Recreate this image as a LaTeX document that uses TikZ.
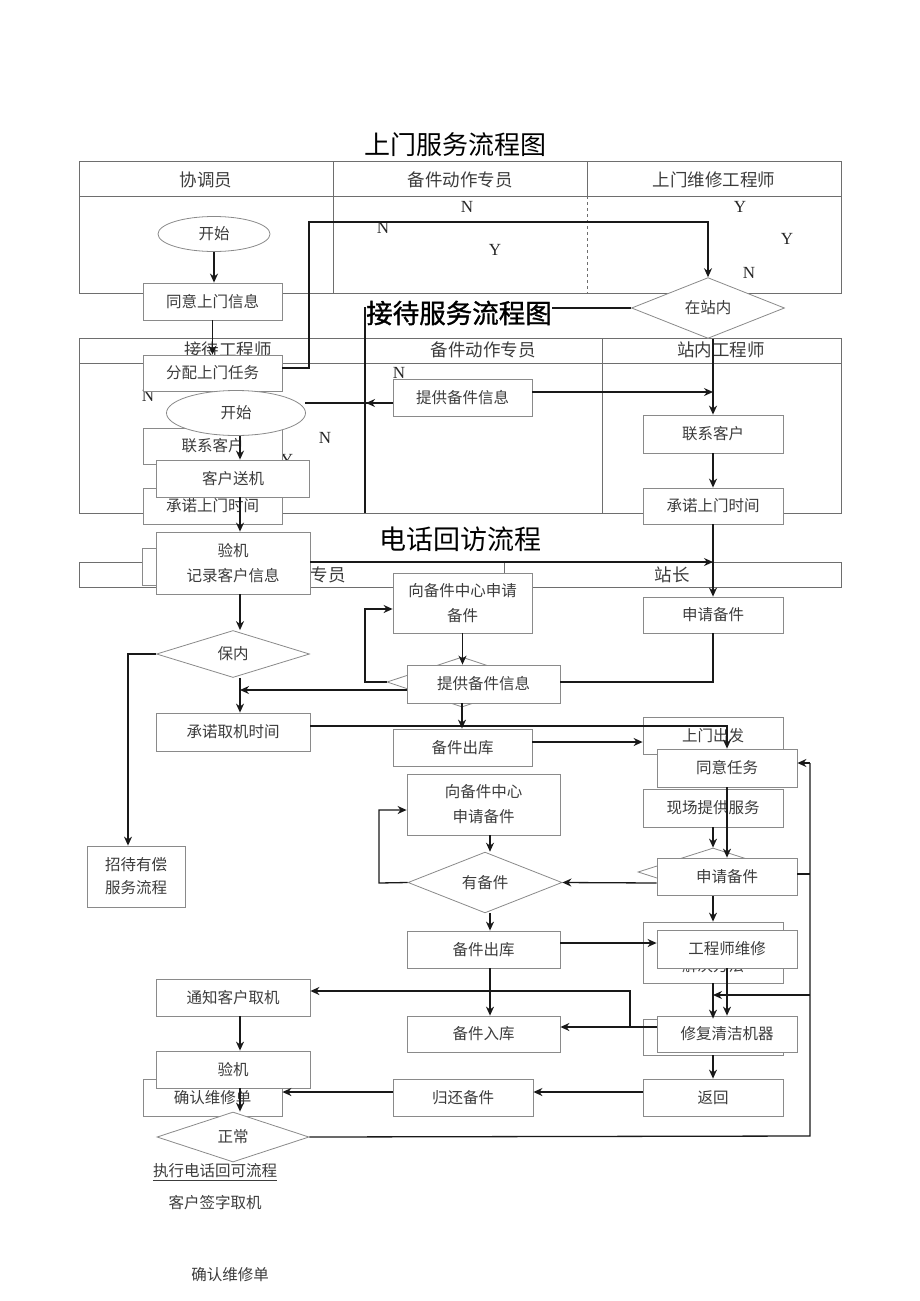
\documentclass[tikz,border=0pt]{standalone}
\usepackage{fontspec}
\setmainfont{Liberation Serif}
\newfontfamily\cjk{Noto Sans CJK SC}
\newfontfamily\cjkb{Noto Sans CJK SC}[FakeBold=1.2]
\usetikzlibrary{shapes.geometric,arrows.meta}
\definecolor{boxline}{HTML}{8A8A8A}
\definecolor{boxtext}{HTML}{3C3C3C}
\definecolor{tabline}{HTML}{6E6E6E}
\begin{document}
\begin{tikzpicture}[x=1pt,y=-1pt]
\tikzstyle{every node}+=[inner sep=0pt]
\tikzstyle{box}=[draw=boxline, line width=0.8pt, fill=white, minimum height=37pt, text=boxtext, font=\cjk\fontsize{15.5}{25}\selectfont, align=center]
\tikzstyle{dia}=[box, diamond, minimum height=49pt]
\tikzstyle{oval}=[box, ellipse]
\tikzstyle{lane}=[text=boxtext, font=\cjk\fontsize{17.5}{20}\selectfont]
\tikzstyle{note}=[text=boxtext, font=\cjk\fontsize{15.5}{18}\selectfont]
\tikzstyle{title}=[fill=white, font=\cjk\fontsize{26}{30}\selectfont]
\tikzstyle{yn}=[text=black!85, font=\fontsize{17}{18}\selectfont]
\tikzstyle{arr}=[black!90, line width=1.3pt, -{Stealth[length=9pt,width=8pt]}]
\tikzstyle{wire}=[black!90, line width=1.3pt]
\tikzstyle{frame}=[tabline, line width=0.9pt]
\useasboundingbox (0,0) rectangle (920,1301);

\draw[frame] (79,161) rectangle (841,293);
\draw[frame] (79,196) -- (841,196);
\draw[frame] (333,161) -- (333,293);
\draw[frame] (587,161) -- (587,196);
\draw[frame, dashed] (587,196) -- (587,293);
\node[lane] (h1a) at (206,180) {协调员};
\node[lane] (h1b) at (460,180) {备件动作专员};
\node[lane] (h1c) at (714,180) {上门维修工程师};

\draw[frame] (79,338) rectangle (841,513);
\draw[frame] (79,363) -- (841,363);
\draw[frame] (602,338) -- (602,513);
\node[lane] (h2a) at (228,350) {接待工程师};
\node[lane] (h2b) at (483,350) {备件动作专员};
\node[lane] (h2c) at (721,350) {站内工程师};

\draw[frame] (79,562) rectangle (841,587);
\draw[frame] (504,562) -- (504,587);
\node[lane] (h3a) at (328,575) {专员};
\node[lane] (h3b) at (672,575) {站长};

\node[dia, minimum width=153pt, minimum height=50pt] (zzn) at (708,308) {在站内};
\draw[wire] (zzn.west) -- (365,308) -- (365,513);

\node[title] (t1) at (455,145) {上门服务流程图};
\node[title, font=\cjkb\fontsize{26.5}{30}\selectfont] (t2) at (459,313) {接待服务流程图};
\node[title, font=\cjk\fontsize{27}{30}\selectfont] (t3) at (460,539) {电话回访流程};

\node[yn] (n1) at (467,207) {N};
\node[yn] (n2) at (383,228) {N};
\node[yn] (y1) at (495,250) {Y};
\node[yn] (y2) at (740,207) {Y};
\node[yn] (y3) at (787,239) {Y};
\node[yn] (n3) at (749,273) {N};
\node[yn] (n4) at (399,373) {N};
\node[yn] (n5) at (148,396) {N};
\node[yn] (n6) at (325,438) {N};
\node[yn] (y4) at (287,460) {Y};

\node[oval, minimum width=112pt, minimum height=35pt] (ks1) at (214,234) {开始};
\node[box, minimum width=139pt] (tyxx) at (212.5,301.5) {同意上门信息};

\node[box, minimum width=139pt, minimum height=36pt] (lxkh1) at (212.5,446) {联系客户};
\node[box, minimum width=139pt, minimum height=36pt] (cnsj1) at (212.5,506) {承诺上门时间};
\node[box, minimum width=139pt, minimum height=36pt] (fprw) at (212.5,373) {分配上门任务};
\node[oval, minimum width=139pt, minimum height=45pt] (ks2) at (236,413) {开始};
\node[box, minimum width=153pt] (csj) at (233,478.5) {客户送机};
\node[box, minimum width=139pt] (tgxx1) at (462.5,397.5) {提供备件信息};
\node[box, minimum width=140pt, minimum height=38pt] (lxkh2) at (713,434) {联系客户};
\node[box, minimum width=140pt, minimum height=36pt] (cnsj2) at (713,506) {承诺上门时间};

\node[box, minimum width=140pt] (yjbk) at (212,566.5) {};
\node[box, minimum width=154pt, minimum height=62pt] (yj1) at (233,563) {验机\\记录客户信息};
\node[box, minimum width=139pt, minimum height=60pt] (sqzx1) at (462.5,603) {向备件中心申请\\备件};
\node[dia, minimum width=150pt, minimum height=50pt] (dia1) at (462,682) {};
\node[box, minimum width=153pt, minimum height=38pt] (tgxx2) at (483.5,684) {提供备件信息};
\node[box, minimum width=140pt, minimum height=36pt] (sqbj1) at (713,615) {申请备件};

\node[dia, minimum width=153pt, minimum height=47pt] (bn) at (233,654) {保内};
\node[box, minimum width=154pt, minimum height=38pt] (cnqj) at (233,732) {承诺取机时间};
\node[box, minimum width=98pt, minimum height=61pt, font=\cjk\fontsize{15.5}{23}\selectfont] (zdyc) at (136,876.5) {招待有偿\\服务流程};
\node[box, minimum width=139pt] (bjck1) at (462.5,747.5) {备件出库};

\node[box, minimum width=140pt] (smcf) at (713,735.5) {上门出发};
\node[box, minimum width=140pt, minimum height=38pt] (tyrw) at (727,768) {同意任务};
\node[box, minimum width=140pt, minimum height=38pt] (xctg) at (713,808) {现场提供服务};
\node[dia, minimum width=150pt, minimum height=48pt] (dia2) at (713,872) {};
\node[box, minimum width=140pt] (sqbj2) at (727,876.5) {申请备件};

\node[box, minimum width=153pt, minimum height=61pt] (sqzx2) at (483.5,804.5) {向备件中心\\申请备件};
\node[dia, minimum width=154pt, minimum height=49pt] (ybj) at (485,882.5) {有备件};
\node[box, minimum width=153pt] (bjck2) at (483.5,949.5) {备件出库};

\node[box, minimum width=140pt, minimum height=61pt] (jjff) at (713,952.5) {};
\node[note] (jjfftxt) at (713,966) {解决方法};
\node[box, minimum width=140pt, minimum height=38pt] (gcwx) at (727,949) {工程师维修};

\node[box, minimum width=153pt, minimum height=36pt] (bjrk) at (483.5,1034) {备件入库};
\node[box, minimum width=140pt, minimum height=36pt] (xfbk) at (713,1037) {};
\node[box, minimum width=140pt, minimum height=36pt] (xfqj) at (727,1034) {修复清洁机器};
\node[box, minimum width=140pt] (fh) at (713,1097.5) {返回};
\node[box, minimum width=140pt] (ghbj) at (463,1097.5) {归还备件};

\node[box, minimum width=154pt] (tzqj) at (233,997.5) {通知客户取机};
\node[box, minimum width=139pt] (qrwx) at (212.5,1097.5) {确认维修单};
\node[box, minimum width=154pt] (yj2) at (233,1069.5) {验机};
\node[dia, minimum width=152pt, minimum height=50pt] (zc) at (233,1137) {正常};

\node[note] (zxhf) at (215,1171) {执行电话回可流程};
\draw[boxtext, line width=0.7pt] ([yshift=-2pt]zxhf.south west) -- ([yshift=-2pt]zxhf.south east);
\node[note] (khqz) at (215,1203) {客户签字取机};
\node[note] (qrwx2) at (230,1275) {确认维修单};

\draw[arr] (ks1.south) -- (ks1.south |- tyxx.north);
\draw[arr] (tyxx.south) -- (tyxx.south |- fprw.north);
\draw[arr] (fprw.east |- 0,368) -- (309,368) -- (309,222) -- (zzn.north |- 0,222) -- (zzn.north);
\draw[arr] (zzn.south -| lxkh2.north) -- (lxkh2.north);
\draw[arr] (tgxx1.east |- 0,392) -- (lxkh2.north |- 0,392);
\draw[wire] (tgxx1.west |- 0,403) -- (305,403);
\draw[arr] (tgxx1.west |- 0,403) -- (366,403);
\draw[arr] (ks2.south -| 240,0) -- (csj.north -| 240,0);
\draw[arr] (lxkh2.south) -- (cnsj2.north);
\draw[arr] (csj.south -| 240,0) -- (yj1.north -| 240,0);
\draw[arr] (cnsj2.south) -- (sqbj1.north);
\draw[arr] (yj1.east |- 0,562) -- (sqbj1.north |- 0,562);
\draw[arr] (sqzx1.south) -- (sqzx1.south |- tgxx2.north);
\draw[arr] (dia1.west) -- (365,682) -- (365,609) -- (sqzx1.west |- 0,609);
\draw[wire] (sqbj1.south) -- (sqbj1.south |- 0,682) -- (tgxx2.east |- 0,682);
\draw[arr] (tgxx2.west |- 0,690) -- (240,690);
\draw[arr] (yj1.south -| 240,0) -- (bn.north -| 240,0);
\draw[arr] (bn.south -| 240,0) -- (cnqj.north -| 240,0);
\draw[arr] (bn.west) -- (128,654) -- (zdyc.north -| 128,0);
\draw[arr] (cnqj.east |- 0,726) -- (727,726) -- (tyrw.north);
\draw[arr] (tgxx2.south -| 462,0) -- (bjck1.north -| 462,0);
\draw[arr] (bjck1.east |- 0,742) -- (smcf.west |- 0,742);
\draw[arr] (tyrw.south) -- (sqbj2.north);
\draw[arr] (xctg.south) -- (dia2.north);
\draw[arr] (sqbj2.west |- 0,883) -- (ybj.east);
\draw[arr] (sqzx2.south -| 490,0) -- (ybj.north -| 490,0);
\draw[arr] (ybj.west) -- (379,883) -- (379,810) -- (sqzx2.west |- 0,810);
\draw[arr] (ybj.south -| 490,0) -- (bjck2.north -| 490,0);
\draw[arr] (bjck2.east |- 0,943) -- (gcwx.west |- 0,943);
\draw[arr] (dia2.south) -- (jjff.north);
\draw[arr] (jjff.south) -- (xfbk.north);
\draw[arr] (gcwx.south) -- (xfqj.north);
\draw[wire] (810,763) -- (810,1136) -- (zc.east);
\draw[arr] (810,763) -- (tyrw.east |- 0,763);
\draw[arr] (810,995) -- (jjff.south |- 0,995);
\draw[wire] (sqbj2.east |- 0,874) -- (810,874);
\draw[arr] (xfqj.west |- 0,1027) -- (bjrk.east |- 0,1027);
\draw[arr] (630,1027) -- (630,991) -- (tzqj.east |- 0,991);
\draw[arr] (bjck2.south -| 490,0) -- (bjrk.north -| 490,0);
\draw[arr] (xfbk.south) -- (fh.north);
\draw[arr] (fh.west |- 0,1092) -- (ghbj.east |- 0,1092);
\draw[arr] (ghbj.west |- 0,1092) -- (qrwx.east |- 0,1092);
\draw[arr] (tzqj.south -| 240,0) -- (yj2.north -| 240,0);
\draw[arr] (yj2.south -| 240,0) -- (zc.north -| 240,0);
\end{tikzpicture}
\end{document}
